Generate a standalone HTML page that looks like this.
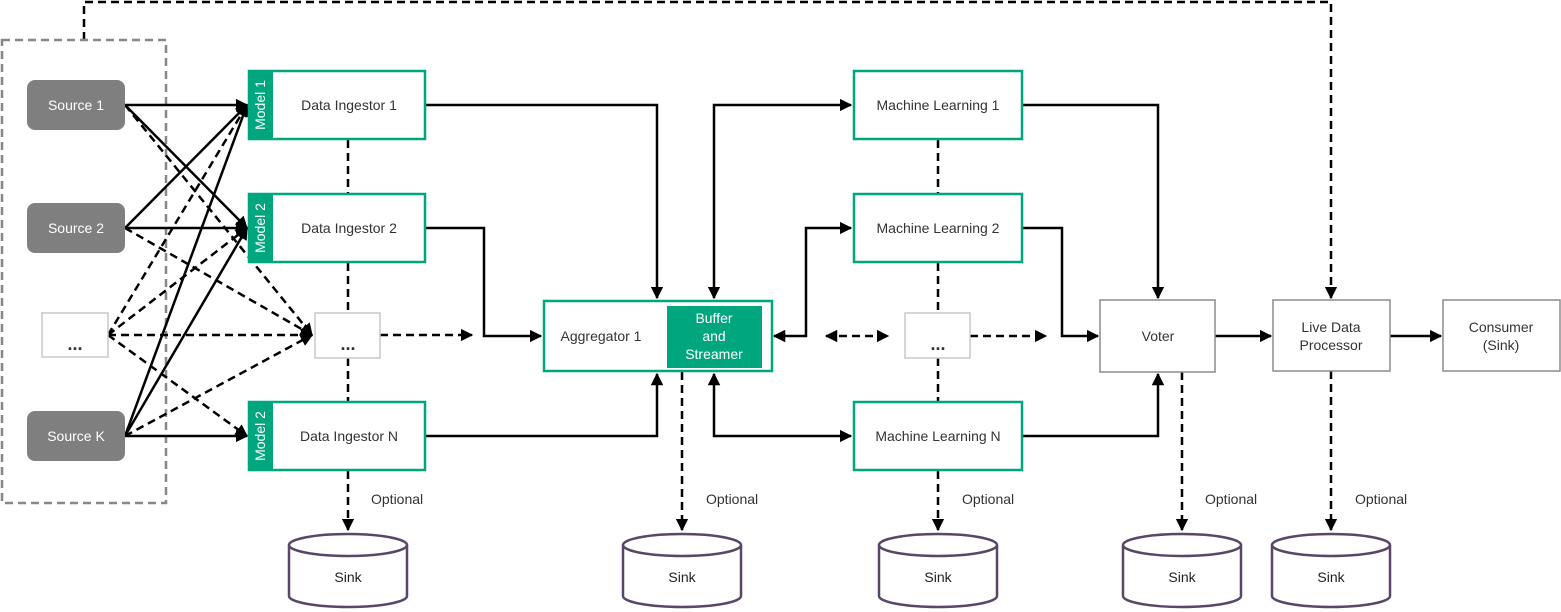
<!DOCTYPE html>
<html><head><meta charset="utf-8"><style>
body{margin:0;background:#fff}
svg{display:block;font-family:"Liberation Sans",sans-serif;font-size:14px}
</style></head><body>
<svg width="1561" height="612" viewBox="0 0 1561 612" xmlns="http://www.w3.org/2000/svg">
<defs>
<marker id="a" viewBox="0 0 10 10" refX="9" refY="5" markerWidth="5" markerHeight="5" orient="auto-start-reverse"><path d="M0,0L10,5L0,10z" fill="#000"/></marker>
</defs>
<g fill="none" stroke="#000" stroke-width="2.5">
<path d="M84,40V2H1331V298" stroke-dasharray="8,5" marker-end="url(#a)"/>
</g>
<rect x="2" y="40" width="164" height="463" fill="none" stroke="#888" stroke-width="2.5" stroke-dasharray="8,5"/>
<g fill="none" stroke="#000" stroke-width="2.5" marker-end="url(#a)">
<path d="M125,105L247,105"/><path d="M125,105L247,228"/>
<path d="M125,228L247,105"/><path d="M125,228L247,228"/>
<path d="M125,436L247,105"/><path d="M125,436L247,228"/><path d="M125,436L247,436"/>
</g>
<g fill="none" stroke="#000" stroke-width="2.5" stroke-dasharray="8,5" marker-end="url(#a)">
<path d="M125,105L312,335"/><path d="M125,228L312,335"/><path d="M125,436L312,335"/>
<path d="M108,335L247,105"/><path d="M108,335L247,228"/><path d="M108,335L312,335"/><path d="M108,335L247,436"/>
<path d="M380,335H472"/>
<path d="M348,471V530" />
<path d="M682,372V530"/><path d="M938,471V530"/><path d="M1182,372V530"/><path d="M1331,371V530"/>
<path d="M970,336H1046"/>
<path d="M826,336H888" marker-start="url(#a)"/>
</g>
<g fill="none" stroke="#000" stroke-width="2.5" stroke-dasharray="8,5">
<path d="M348,140V193M348,263V313M348,358V401"/>
<path d="M938,140V193M938,263V313M938,358V401"/>
</g>
<g fill="none" stroke="#000" stroke-width="2.5" marker-end="url(#a)">
<path d="M426,105H657V298"/><path d="M426,228H484V336H541"/><path d="M426,436H657V374"/>
<path d="M714,298V105H851" marker-start="url(#a)"/>
<path d="M774,336H806V228H851" marker-start="url(#a)"/>
<path d="M714,374V436H851" marker-start="url(#a)"/>
<path d="M1023,105H1158V298"/><path d="M1023,228H1062V336H1098"/><path d="M1023,436H1158V374"/>
<path d="M1215,336H1271"/><path d="M1390,336H1441"/>
</g>
<g fill="#7f7f80"><rect x="27" y="80" width="98" height="50" rx="8"/><rect x="27" y="203" width="98" height="50" rx="8"/><rect x="27" y="411" width="98" height="50" rx="8"/></g>
<g fill="#fff" text-anchor="middle"><text x="76" y="110">Source 1</text><text x="76" y="233">Source 2</text><text x="76" y="441">Source K</text></g>
<g fill="#fff" stroke="#c8c8c8" stroke-width="1.5"><rect x="42" y="313" width="66" height="44"/><rect x="315" y="313" width="65" height="45"/><rect x="905" y="313" width="65" height="45"/></g>
<g font-size="18" font-weight="bold" text-anchor="middle" fill="#333"><text x="75" y="350">...</text><text x="348" y="350">...</text><text x="938" y="350">...</text></g>
<g fill="#fff" stroke="#00a77e" stroke-width="2.5">
<rect x="249" y="71" width="176" height="68"/><rect x="249" y="194" width="176" height="68"/><rect x="249" y="402" width="176" height="68"/>
<rect x="854" y="71" width="168" height="68"/><rect x="854" y="194" width="168" height="68"/><rect x="854" y="402" width="168" height="68"/>
<rect x="544" y="301" width="228" height="70"/>
</g>
<g fill="#00a77e"><rect x="248" y="70" width="25" height="70"/><rect x="248" y="193" width="25" height="70"/><rect x="248" y="401" width="25" height="70"/><rect x="667" y="306" width="95" height="62"/></g>
<g fill="#fff" text-anchor="middle">
<text transform="translate(265,105) rotate(-90)">Model 1</text>
<text transform="translate(265,228) rotate(-90)">Model 2</text>
<text transform="translate(265,436) rotate(-90)">Model 2</text>
<text x="714" y="323">Buffer</text><text x="714" y="341">and</text><text x="714" y="359">Streamer</text>
</g>
<g fill="#333" text-anchor="middle">
<text x="349" y="110">Data Ingestor 1</text><text x="349" y="233">Data Ingestor 2</text><text x="349" y="441">Data Ingestor N</text>
<text x="938" y="110">Machine Learning 1</text><text x="938" y="233">Machine Learning 2</text><text x="938" y="441">Machine Learning N</text>
<text x="601" y="341">Aggregator 1</text>
</g>
<g fill="#fff" stroke="#8c8c8c" stroke-width="1.5"><rect x="1100" y="300" width="115" height="72"/><rect x="1273" y="300" width="117" height="71"/><rect x="1443" y="300" width="117" height="71"/></g>
<g fill="#333" text-anchor="middle">
<text x="1158" y="341">Voter</text>
<text x="1331" y="332">Live Data</text><text x="1331" y="350">Processor</text>
<text x="1501" y="332">Consumer</text><text x="1501" y="350">(Sink)</text>
</g>
<g fill="#333"><text x="371" y="504">Optional</text><text x="706" y="504">Optional</text><text x="962" y="504">Optional</text><text x="1205" y="504">Optional</text><text x="1355" y="504">Optional</text></g>
<g fill="#fff" stroke="#5a4668" stroke-width="2.5">
<path d="M289,545V596A59,11 0 0 0 407,596V545"/><ellipse cx="348" cy="545" rx="59" ry="11"/>
<path d="M623,545V596A59,11 0 0 0 741,596V545"/><ellipse cx="682" cy="545" rx="59" ry="11"/>
<path d="M879,545V596A59,11 0 0 0 997,596V545"/><ellipse cx="938" cy="545" rx="59" ry="11"/>
<path d="M1123,545V596A59,11 0 0 0 1241,596V545"/><ellipse cx="1182" cy="545" rx="59" ry="11"/>
<path d="M1272,545V596A59,11 0 0 0 1390,596V545"/><ellipse cx="1331" cy="545" rx="59" ry="11"/>
</g>
<g fill="#222" text-anchor="middle"><text x="348" y="582">Sink</text><text x="682" y="582">Sink</text><text x="938" y="582">Sink</text><text x="1182" y="582">Sink</text><text x="1331" y="582">Sink</text></g>
</svg>
</body></html>
